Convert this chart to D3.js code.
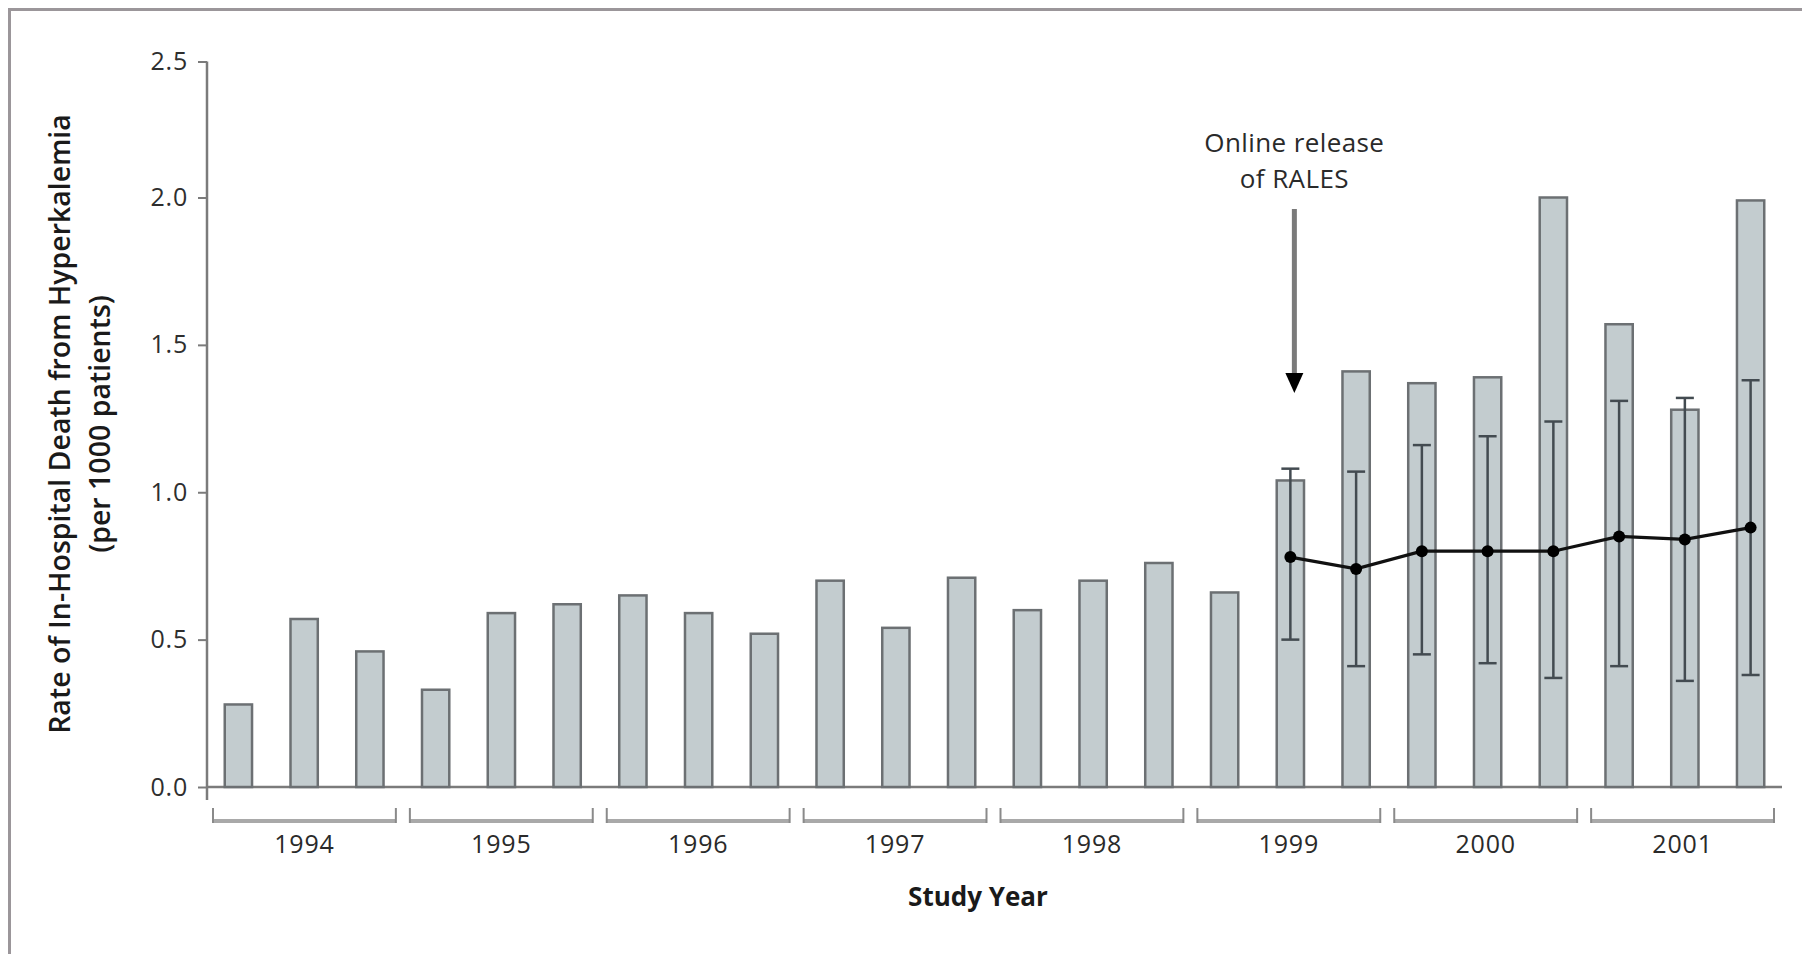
<!DOCTYPE html>
<html>
<head>
<meta charset="utf-8">
<script src="https://cdn.jsdelivr.net/npm/d3@7"></script>
<style>
  html, body { margin: 0; padding: 0; background: #fff; }
  svg { display: block; }
  text { font-family: "Open Sans", "Noto Sans", sans-serif; }
</style>
</head>
<body>
<svg id="chart" width="1802" height="954"></svg>
<script>
// Study years, each split into three periods
const years = ["1994", "1995", "1996", "1997", "1998", "1999", "2000", "2001"];
const periodsPerYear = 3;

// Observed rate of in-hospital death from hyperkalemia (per 1000 patients), one per period
const observedRates = [
  0.28, 0.57, 0.46,
  0.33, 0.59, 0.62,
  0.65, 0.59, 0.52,
  0.70, 0.54, 0.71,
  0.60, 0.70, 0.76,
  0.66, 1.04, 1.41,
  1.37, 1.39, 2.00,
  1.57, 1.28, 1.99
];

// Expected rates after the online release of RALES, with 95% intervals
const expectedStart = 16;
const expectedRates = [0.78, 0.74, 0.80, 0.80, 0.80, 0.85, 0.84, 0.88];
const expectedLow   = [0.50, 0.41, 0.45, 0.42, 0.37, 0.41, 0.36, 0.38];
const expectedHigh  = [1.08, 1.07, 1.16, 1.19, 1.24, 1.31, 1.32, 1.38];

const yTicks = [0, 0.5, 1.0, 1.5, 2.0, 2.5];
const yTitle = ["Rate of In-Hospital Death from Hyperkalemia", "(per 1000 patients)"];
const xTitle = "Study Year";
const noteLines = ["Online release", "of RALES"];
const notePeriod = 16;

const svg = d3.select("#chart");

// frame (top and left edges)
svg.append("path")
  .attr("d", "M9.5,954 V9.5 H1802")
  .attr("fill", "none")
  .attr("stroke", "#9b969a")
  .attr("stroke-width", 3);

const x0 = 207, x1 = 1782;
const y0 = 787;

const periodIds = d3.range(years.length * periodsPerYear);
const x = d3.scaleBand().domain(periodIds).range([x0, x1]).paddingInner(0.585).paddingOuter(0.27);
const slot = d3.scaleBand().domain(periodIds).range([x0, x1]);
const y = d3.scaleLinear().domain([0, 2.0, 2.5]).range([y0, 197.5, 61.5]);

// y axis
const yAxis = d3.axisLeft(y).tickValues(yTicks).tickFormat(d3.format(".1f")).tickSize(9).tickPadding(10);
const yg = svg.append("g").attr("transform", `translate(${x0},0)`).call(yAxis);
yg.select(".domain").remove();
yg.selectAll(".tick line").attr("stroke", "#7b7b7b").attr("stroke-width", 2);
yg.selectAll(".tick text").attr("fill", "#2e2e2e").style("font-size", "25px")
  .style("letter-spacing", "0.8px")
  .style("font-family", "'Open Sans', sans-serif");
svg.append("line")
  .attr("x1", x0).attr("x2", x0)
  .attr("y1", y(2.5)).attr("y2", y0 + 13)
  .attr("stroke", "#7b7b7b").attr("stroke-width", 2.5);

// x axis baseline
svg.append("line")
  .attr("x1", x0).attr("x2", x1)
  .attr("y1", y0).attr("y2", y0)
  .attr("stroke", "#7b7b7b").attr("stroke-width", 2.5);

// bars
svg.append("g").selectAll("rect")
  .data(observedRates)
  .join("rect")
  .attr("x", (d, i) => x(i))
  .attr("width", x.bandwidth())
  .attr("y", d => y(d))
  .attr("height", d => y(0) - y(d))
  .attr("fill", "#c3cccf")
  .attr("stroke", "#6c7073")
  .attr("stroke-width", 2.5);

// year brackets
const yearG = svg.append("g").selectAll("g").data(years).join("g");
const yearStart = (i) => slot(i * periodsPerYear);
const yearEnd = (i) => slot(i * periodsPerYear + periodsPerYear - 1) + slot.bandwidth();
const bTop = 808, bBot = 821;
yearG.append("line")
  .attr("x1", (d, i) => yearStart(i) + 6).attr("x2", (d, i) => yearEnd(i) - 8)
  .attr("y1", bBot).attr("y2", bBot)
  .attr("stroke", "#a9a9a9").attr("stroke-width", 4);
yearG.append("path")
  .attr("d", (d, i) => {
    const a = yearStart(i) + 6, b = yearEnd(i) - 8;
    return `M${a},${bTop}V${bBot + 2}M${b},${bTop}V${bBot + 2}`;
  })
  .attr("fill", "none").attr("stroke", "#8a8a8a").attr("stroke-width", 2);
yearG.append("text")
  .attr("x", (d, i) => (yearStart(i) + yearEnd(i)) / 2 - 1)
  .attr("y", 853)
  .attr("text-anchor", "middle")
  .attr("fill", "#2a2a2a")
  .style("font-size", "25px")
  .style("letter-spacing", "0.8px")
  .text(d => d);

// axis titles
svg.append("text")
  .attr("x", 978).attr("y", 906)
  .attr("text-anchor", "middle")
  .attr("fill", "#1a1a1a")
  .style("font-size", "26px").style("font-weight", 700)
  .text(xTitle);

const yt = svg.append("text")
  .attr("transform", "translate(61,424) rotate(-90)")
  .attr("text-anchor", "middle")
  .attr("fill", "#1a1a1a")
  .style("font-size", "28.5px").style("font-weight", 600);
yTitle.forEach((t, i) => {
  yt.append("tspan").attr("x", 0).attr("dy", i === 0 ? 9 : 40).text(t);
});

// expected-rate intervals, line and points
const expected = expectedRates.map((v, k) => ({
  i: expectedStart + k, v, lo: expectedLow[k], hi: expectedHigh[k]
}));
const cx = d => x(d.i) + x.bandwidth() / 2;
const capHalf = 9;
const eg = svg.append("g").attr("stroke", "#434b51").attr("stroke-width", 2.5);
eg.selectAll("line.v").data(expected).join("line").attr("class", "v")
  .attr("x1", cx).attr("x2", cx).attr("y1", d => y(d.lo)).attr("y2", d => y(d.hi));
eg.selectAll("line.hi").data(expected).join("line").attr("class", "hi")
  .attr("x1", d => cx(d) - capHalf).attr("x2", d => cx(d) + capHalf)
  .attr("y1", d => y(d.hi)).attr("y2", d => y(d.hi));
eg.selectAll("line.lo").data(expected).join("line").attr("class", "lo")
  .attr("x1", d => cx(d) - capHalf).attr("x2", d => cx(d) + capHalf)
  .attr("y1", d => y(d.lo)).attr("y2", d => y(d.lo));

svg.append("path")
  .datum(expected)
  .attr("d", d3.line().x(cx).y(d => y(d.v)))
  .attr("fill", "none").attr("stroke", "#111").attr("stroke-width", 3.2);
svg.append("g").selectAll("circle").data(expected).join("circle")
  .attr("cx", cx).attr("cy", d => y(d.v)).attr("r", 6).attr("fill", "#000");

// annotation arrow
const ax = x(notePeriod) + x.bandwidth() / 2 + 4;
svg.append("line")
  .attr("x1", ax).attr("x2", ax).attr("y1", 209).attr("y2", 376)
  .attr("stroke", "#7a7a7a").attr("stroke-width", 5);
svg.append("path")
  .attr("d", `M${ax - 9},373 L${ax + 9},373 L${ax},393 Z`)
  .attr("fill", "#000");
const nt = svg.append("text")
  .attr("x", ax).attr("y", 152)
  .attr("text-anchor", "middle")
  .attr("fill", "#2a2a2a")
  .style("font-size", "26px")
  .style("letter-spacing", "0.4px");
noteLines.forEach((t, i) => {
  nt.append("tspan").attr("x", ax).attr("dy", i === 0 ? 0 : 36).text(t);
});
</script>
</body>
</html>
